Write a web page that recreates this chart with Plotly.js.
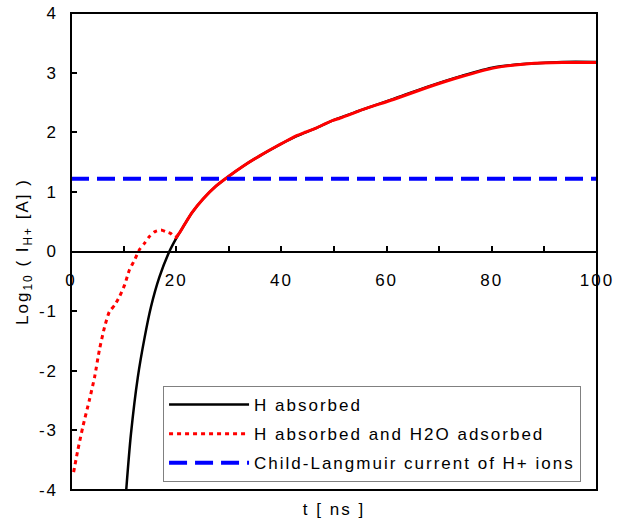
<!DOCTYPE html>
<html>
<head>
<meta charset="utf-8">
<script src="https://cdn.plot.ly/plotly-3.0.1.min.js"></script>
<style>
  html, body { margin: 0; padding: 0; background: #fff; }
  #chart { width: 621px; height: 523px; }
  svg text { letter-spacing: 2px; }
</style>
</head>
<body>
<div id="chart"></div>
<script>
// ---- data ----
var tH = [10.5, 11.4, 12.7, 14.0, 15.2, 16.8, 18.7, 20.0, 21.5, 23.0, 25.1, 27.6, 29.8, 32.7, 35.8, 39.0, 42.8, 46.6, 49.8, 54.8, 61.3, 67.7, 74.1, 80.5, 87.0, 93.4, 100];
var logIH = [-4.0, -3.06, -2.11, -1.44, -0.93, -0.43, 0.0, 0.22, 0.44, 0.65, 0.88, 1.10, 1.25, 1.43, 1.60, 1.76, 1.93, 2.07, 2.20, 2.36, 2.56, 2.76, 2.94, 3.09, 3.15, 3.18, 3.18];

// red curve, early (dotted-looking) part
var tW1 = [0.5, 1.3, 2.25, 3.5, 4.5, 5.4, 6.4, 7.3, 8.3, 9.2, 10.2, 11.1, 12.1, 13.0, 14.0, 14.9, 15.9, 17.1, 18.1, 19.0, 19.9, 20.6];
var logIW1 = [-3.70, -3.33, -2.94, -2.49, -2.10, -1.65, -1.26, -1.01, -0.90, -0.76, -0.56, -0.31, -0.14, 0.03, 0.14, 0.25, 0.33, 0.36, 0.33, 0.30, 0.23, 0.31];
// red curve, later part lying on the black curve
var tW2 = [19.9, 20.6, 21.5, 23.0, 25.1, 27.6, 29.8, 32.7, 35.8, 39.0, 42.8, 44.5, 46.6, 48.5, 49.8, 51.0, 52.5, 54.8, 61.3, 67.7, 74.1, 80.5, 87.0, 93.4, 100];
var logIW2 = [0.23, 0.31, 0.44, 0.65, 0.88, 1.10, 1.25, 1.43, 1.60, 1.76, 1.94, 2.00, 2.07, 2.15, 2.20, 2.23, 2.28, 2.36, 2.55, 2.75, 2.93, 3.08, 3.15, 3.17, 3.17];

var tCL = [0, 100];
var logICL = [1.22, 1.22];

var xTickVals = [0, 10, 20, 30, 40, 50, 60, 70, 80, 90, 100];
var xTickText = ['0', '', '20', '', '40', '', '60', '', '80', '', '100'];
var yTickVals = [-4, -3, -2, -1, 0, 1, 2, 3, 4];
var yTickText = ['-4', '-3', '-2', '-1', '0', '1', '2', '3', '4'];

var seriesNames = ['H absorbed', 'H absorbed and H2O adsorbed', 'Child-Langmuir current of H+ ions'];

var FONT = 'Liberation Sans, Arial, sans-serif';

var traces = [
  {
    x: tH, y: logIH, name: seriesNames[0], type: 'scatter', mode: 'lines',
    line: {color: '#000000', width: 2.5, shape: 'spline', smoothing: 0.8},
    legendgroup: 'a'
  },
  {
    x: tW2, y: logIW2, name: seriesNames[1], type: 'scatter', mode: 'lines',
    line: {color: '#ff0000', width: 3, shape: 'spline', smoothing: 0.5},
    legendgroup: 'b', showlegend: false
  },
  {
    x: tW1, y: logIW1, name: seriesNames[1], type: 'scatter', mode: 'lines',
    line: {color: '#ff0000', width: 3, dash: '4px,4px', shape: 'spline', smoothing: 0.6},
    legendgroup: 'b'
  },
  {
    x: tCL, y: logICL, name: seriesNames[2], type: 'scatter', mode: 'lines',
    line: {color: '#0000ff', width: 4, dash: '18px,8px'},
    legendgroup: 'c'
  }
];

var layout = {
  width: 621, height: 523,
  margin: {l: 71, r: 24, t: 13, b: 33},
  paper_bgcolor: '#ffffff', plot_bgcolor: '#ffffff',
  font: {family: FONT, size: 17, color: '#000000'},
  showlegend: true,
  xaxis: {
    range: [0, 100], showgrid: false, zeroline: false, automargin: false,
    showticklabels: false, ticks: '', showline: false,
    title: {text: 't [ ns ]', font: {family: FONT, size: 17, color: '#000'}, standoff: 13}
  },
  xaxis2: {
    overlaying: 'x', anchor: 'free', position: 0.5, side: 'bottom',
    range: [0, 100], showgrid: false, zeroline: false,
    showline: true, linecolor: '#000', linewidth: 2,
    ticks: 'inside', ticklen: 5, tickwidth: 2, tickcolor: '#000',
    tickmode: 'array', tickvals: xTickVals, ticktext: xTickText,
    ticklabelstandoff: 13,
    tickfont: {family: FONT, size: 17, color: '#000'}
  },
  yaxis: {
    range: [-4, 4], showgrid: false, zeroline: false, automargin: false,
    showline: false,
    ticks: 'inside', ticklen: 6, tickwidth: 2, tickcolor: '#000',
    tickmode: 'array', tickvals: yTickVals, ticktext: yTickText,
    ticklabelstandoff: 12,
    tickfont: {family: FONT, size: 17, color: '#000'},
    title: {text: 'Log<sub>10</sub> ( I<sub>H+</sub> [A] )', font: {family: FONT, size: 17, color: '#000'}, standoff: 5}
  },
  legend: {
    x: 0.175, y: 0.218, xanchor: 'left', yanchor: 'top',
    bgcolor: '#ffffff', bordercolor: '#808080', borderwidth: 1,
    font: {family: FONT, size: 17, color: '#000'},
    itemwidth: 80, tracegroupgap: 4, traceorder: 'grouped'
  },
  shapes: [
    {type: 'rect', xref: 'paper', yref: 'paper', x0: 0, x1: 1, y0: 0, y1: 1,
     line: {color: '#000', width: 2}, fillcolor: 'rgba(0,0,0,0)', layer: 'above'}
  ]
};

// invisible trace so that the tick axis (xaxis2) is drawn
traces.push({x: [0, 100], y: [null, null], xaxis: 'x2', yaxis: 'y', showlegend: false, hoverinfo: 'skip', mode: 'lines'});

Plotly.newPlot('chart', traces, layout, {displayModeBar: false, staticPlot: true});
</script>
</body>
</html>
